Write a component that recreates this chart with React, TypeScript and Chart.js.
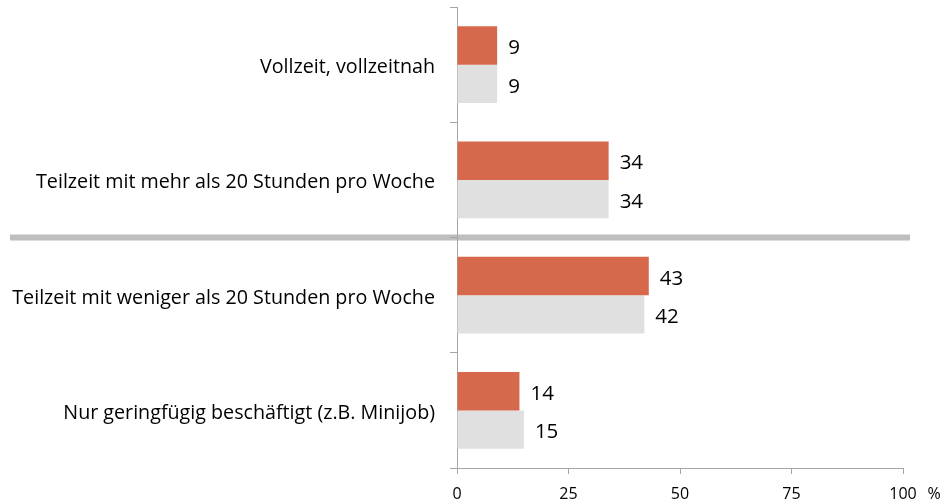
import React, { useEffect, useRef } from "react";
import { Chart, registerables } from "chart.js";

Chart.register(...registerables);

const categories = [
  "Vollzeit, vollzeitnah",
  "Teilzeit mit mehr als 20 Stunden pro Woche",
  "Teilzeit mit weniger als 20 Stunden pro Woche",
  "Nur geringfügig beschäftigt (z.B. Minijob)",
];
const seriesA = [9, 34, 43, 14];
const seriesB = [9, 34, 42, 15];
const xTicks = [0, 25, 50, 75, 100];
const unitLabel = "%";

const FONT = "'Open Sans', sans-serif";

export default function App() {
  const ref = useRef<HTMLCanvasElement | null>(null);

  useEffect(() => {
    document.body.style.margin = "0";
    const canvas = ref.current!;

    const separator = {
      id: "separator",
      beforeDraw(chart: any) {
        const y = chart.scales.y;
        const py = (y.getPixelForValue(1) + y.getPixelForValue(2)) / 2;
        const ctx = chart.ctx;
        ctx.save();
        ctx.strokeStyle = "#BEBEBE";
        ctx.lineWidth = 6;
        ctx.beginPath();
        ctx.moveTo(10, py);
        ctx.lineTo(910, py);
        ctx.stroke();
        ctx.restore();
      },
    };

    const valueLabels = {
      id: "valueLabels",
      afterDatasetsDraw(chart: any) {
        const ctx = chart.ctx;
        ctx.save();
        ctx.font = `20.5px ${FONT}`;
        ctx.fillStyle = "#000";
        ctx.textAlign = "left";
        ctx.textBaseline = "middle";
        chart.data.datasets.forEach((ds: any, i: number) => {
          const meta = chart.getDatasetMeta(i);
          meta.data.forEach((bar: any, j: number) => {
            ctx.fillText(String(ds.data[j]), bar.x + 11, bar.y + 3);
          });
        });
        ctx.font = `16px ${FONT}`;
        ctx.textAlign = "center";
        ctx.fillText(unitLabel, 934, 494);
        ctx.restore();
      },
    };

    const chart = new Chart(canvas, {
      type: "bar",
      data: {
        labels: categories,
        datasets: [
          {
            data: seriesA,
            backgroundColor: "#D6694C",
            barPercentage: 1,
            categoryPercentage: 0.668,
          },
          {
            data: seriesB,
            backgroundColor: "#E0E0E0",
            barPercentage: 1,
            categoryPercentage: 0.668,
          },
        ],
      },
      options: {
        indexAxis: "y",
        animation: false,
        responsive: false,
        layout: { padding: { left: 0, right: 43, top: 7, bottom: 0 } },
        plugins: {
          legend: { display: false },
          tooltip: { enabled: false },
        },
        scales: {
          x: {
            type: "linear",
            min: 0,
            max: 100,
            afterBuildTicks(scale: any) {
              scale.ticks = xTicks.map((v) => ({ value: v }));
            },
            afterFit(scale: any) {
              scale.height = 36;
            },
            grid: {
              drawOnChartArea: false,
              drawTicks: true,
              tickLength: 6,
              color: "#A6A6A6",
            },
            border: { display: true, color: "#A6A6A6", width: 1 },
            ticks: {
              color: "#000",
              font: { family: FONT, size: 16 },
              padding: 11,
              maxRotation: 0,
            },
          },
          y: {
            type: "category",
            afterFit(scale: any) {
              scale.width = 457;
              scale.paddingTop = 0;
              scale.paddingBottom = 0;
            },
            grid: {
              offset: true,
              drawOnChartArea: false,
              drawTicks: true,
              tickLength: 7,
              color: "#A6A6A6",
            },
            border: { display: true, color: "#A6A6A6", width: 1 },
            ticks: {
              color: "#000",
              font: { family: FONT, size: 19.7 },
              padding: 15,
              labelOffset: 3,
            },
          },
        },
      },
      plugins: [separator, valueLabels],
    });

    return () => chart.destroy();
  }, []);

  return <canvas ref={ref} width={946} height={504} style={{ display: "block" }} />;
}
